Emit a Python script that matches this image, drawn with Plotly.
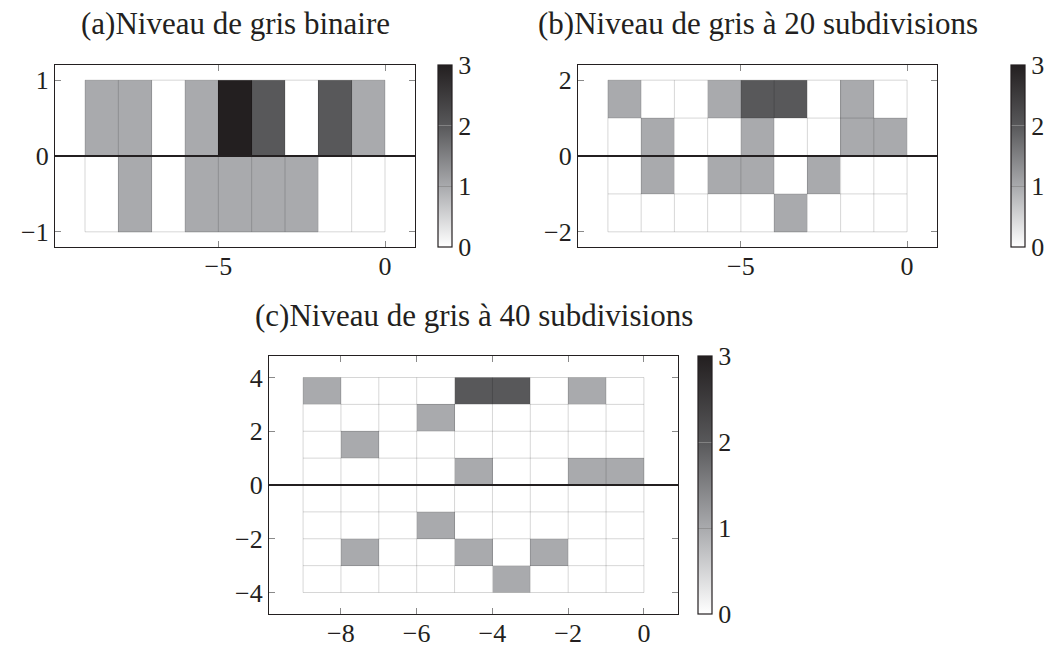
import plotly.graph_objects as go

# ---- data ----
x_edges = [-9, -8, -7, -6, -5, -4, -3, -2, -1, 0]

ya_edges = [-1, 0, 1]
za = [  # rows bottom -> top
    [0, 1, 0, 1, 1, 1, 1, 0, 0],
    [1, 1, 0, 1, 3, 2, 0, 2, 1],
]

yb_edges = [-2, -1, 0, 1, 2]
zb = [
    [0, 0, 0, 0, 0, 1, 0, 0, 0],
    [0, 1, 0, 1, 1, 0, 1, 0, 0],
    [0, 1, 0, 0, 1, 0, 0, 1, 1],
    [1, 0, 0, 1, 2, 2, 0, 1, 0],
]

yc_edges = [-4, -3, -2, -1, 0, 1, 2, 3, 4]
zc = [
    [0, 0, 0, 0, 0, 1, 0, 0, 0],
    [0, 1, 0, 0, 1, 0, 1, 0, 0],
    [0, 0, 0, 1, 0, 0, 0, 0, 0],
    [0, 0, 0, 0, 0, 0, 0, 0, 0],
    [0, 0, 0, 0, 1, 0, 0, 1, 1],
    [0, 1, 0, 0, 0, 0, 0, 0, 0],
    [0, 0, 0, 1, 0, 0, 0, 0, 0],
    [1, 0, 0, 0, 2, 2, 0, 1, 0],
]

titles = ["(a)Niveau de gris binaire",
          "(b)Niveau de gris à 20 subdivisions",
          "(c)Niveau de gris à 40 subdivisions"]
xticks_ab = [-5, 0]
xticks_c = [-8, -6, -4, -2, 0]
yticks_a = [-1, 0, 1]
yticks_b = [-2, 0, 2]
yticks_c = [-4, -2, 0, 2, 4]
cbar_ticks = [0, 1, 2, 3]

# ---- style ----
FONT = "'Liberation Serif', 'DejaVu Serif', serif"
INK = "#231f20"
W, H = 1060, 648
cscale = [[0, "#ffffff"], [1 / 3, "#a9aaad"], [2 / 3, "#58585a"], [1, "#231f20"]]


def px_x(p):
    return p / W


def px_y(p):
    return 1 - p / H


fig = go.Figure()

panels = [
    dict(z=za, y=ya_edges, xt=xticks_ab, yt=yticks_a,
         box=(55, 415, 65, 247), cb=438, title=(235, 24)),
    dict(z=zb, y=yb_edges, xt=xticks_ab, yt=yticks_b,
         box=(578, 937, 65, 247), cb=1011, title=(758, 24)),
    dict(z=zc, y=yc_edges, xt=xticks_c, yt=yticks_c,
         box=(269, 678, 356, 614), cb=698, title=(474, 315)),
]

for i, p in enumerate(panels):
    n = "" if i == 0 else str(i + 1)
    xa, ya, ca = "x" + n, "y" + n, "coloraxis" + n
    fig.add_trace(go.Heatmap(z=p["z"], x=x_edges, y=p["y"], coloraxis=ca,
                             xaxis=xa, yaxis=ya, hoverinfo="skip"))
    # mesh lines
    ys = p["y"]
    lx, ly = [], []
    for xv in x_edges:
        lx += [xv, xv, None]
        ly += [ys[0], ys[-1], None]
    for yv in ys:
        lx += [x_edges[0], x_edges[-1], None]
        ly += [yv, yv, None]
    fig.add_trace(go.Scatter(x=lx, y=ly, mode="lines", xaxis=xa, yaxis=ya,
                             line=dict(color="rgba(0,0,0,0.16)", width=1),
                             hoverinfo="skip", showlegend=False))
    xspan = x_edges[-1] - x_edges[0]
    yspan = ys[-1] - ys[0]
    l, r, t, b = p["box"]
    axcommon = dict(showgrid=False, zeroline=False, ticks="inside", ticklen=6,
                    tickcolor="#8a8a8a", tickwidth=1, showline=True,
                    linecolor=INK, linewidth=1.3, mirror="ticks",
                    automargin=False,
                    tickfont=dict(family=FONT, size=26, color=INK))
    fig.layout["xaxis" + n] = dict(
        axcommon, domain=[px_x(l), px_x(r)], anchor=ya,
        range=[x_edges[0] - 0.1 * xspan, x_edges[-1] + 0.1 * xspan],
        tickvals=p["xt"], ticklabelstandoff=-4)
    fig.layout["yaxis" + n] = dict(
        axcommon, domain=[px_y(b), px_y(t)], anchor=xa,
        range=[ys[0] - 0.1 * yspan, ys[-1] + 0.1 * yspan],
        tickvals=p["yt"])
    fig.layout[ca] = dict(
        cmin=0, cmax=3, colorscale=cscale,
        colorbar=dict(x=px_x(p["cb"]), xanchor="left", xpad=0, ypad=0,
                      y=px_y((t + b) / 2), yanchor="middle",
                      len=(b - t) / H, lenmode="fraction",
                      thickness=14, thicknessmode="pixels",
                      outlinecolor=INK, outlinewidth=1.2,
                      tickvals=cbar_ticks, ticks="inside", ticklen=14,
                      tickcolor="rgba(140,140,140,0.8)",
                      tickfont=dict(family=FONT, size=26, color=INK)))
    # thick zero line
    fig.add_shape(type="line", xref=xa + " domain", yref=ya, x0=0, x1=1,
                  y0=0, y1=0, line=dict(color=INK, width=2.2), layer="above")
    fig.add_annotation(text=titles[i], x=px_x(p["title"][0]),
                       y=px_y(p["title"][1]), xref="paper", yref="paper",
                       xanchor="center", yanchor="middle", showarrow=False,
                       font=dict(family=FONT, size=31, color=INK))

fig.update_layout(width=W, height=H,
                  margin=dict(l=0, r=0, t=0, b=0, autoexpand=False),
                  font=dict(family=FONT, color=INK),
                  paper_bgcolor="white", plot_bgcolor="white",
                  showlegend=False)

fig.write_html(
    "out.html",
    config={"displayModeBar": False},
    post_script="document.body.style.margin='0';"
                "document.body.style.overflow='hidden';")
